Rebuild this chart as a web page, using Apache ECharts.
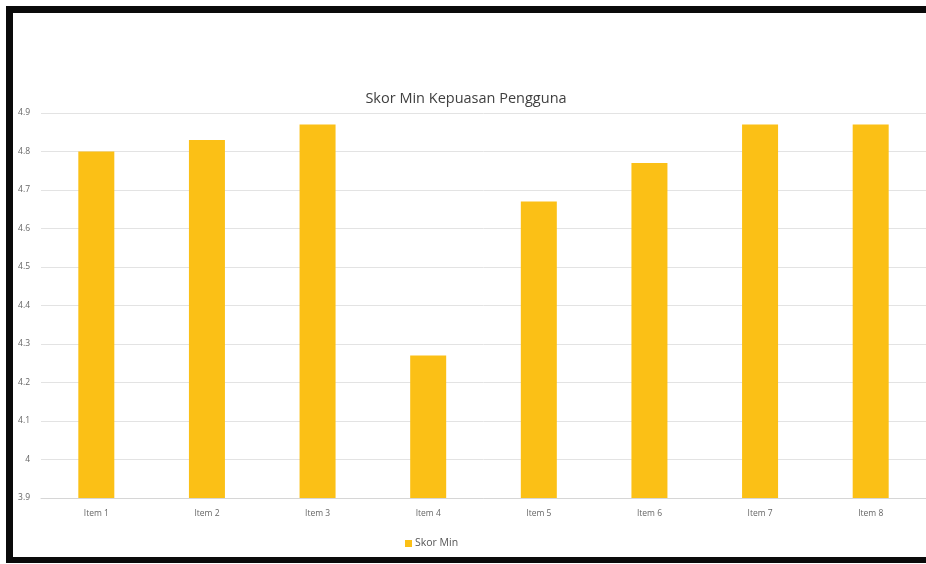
<!DOCTYPE html>
<html>
<head>
<meta charset="utf-8">
<script src="https://cdn.jsdelivr.net/npm/echarts@6/dist/echarts.min.js"></script>
<style>
  html, body { margin: 0; padding: 0; background: #ffffff; }
  #wrap { position: relative; width: 926px; height: 564px; overflow: hidden; }
  #chart { position: absolute; left: 0; top: 0; width: 926px; height: 564px; }
  #frame {
    position: absolute; left: 6px; top: 6px; width: 940px; height: 544px;
    border-left: 7px solid #0a0a0a; border-top: 7px solid #0a0a0a; border-bottom: 6px solid #0a0a0a;
    pointer-events: none;
  }
</style>
</head>
<body>
<div id="wrap">
  <div id="chart"></div>
  <div id="frame"></div>
</div>
<script>
// Mean user-satisfaction score per questionnaire item
const categories = ['Item 1', 'Item 2', 'Item 3', 'Item 4', 'Item 5', 'Item 6', 'Item 7', 'Item 8'];
const skorMin = [4.80, 4.83, 4.87, 4.27, 4.67, 4.77, 4.87, 4.87];
const yTicks = { min: 3.9, max: 4.9, step: 0.1 };

const chart = echarts.init(document.getElementById('chart'));
chart.setOption({
  animation: false,
  backgroundColor: 'transparent',
  title: {
    text: 'Skor Min Kepuasan Pengguna',
    left: 461, top: 86, textAlign: 'center',
    textStyle: { fontFamily: 'Open Sans', fontSize: 14.5, fontWeight: 'normal', color: '#404040' }
  },
  legend: {
    data: ['Skor Min'],
    left: 400, top: 533,
    itemWidth: 7, itemHeight: 7, itemGap: 4,
    icon: 'rect',
    textStyle: { fontFamily: 'Open Sans', fontSize: 10.5, color: '#555555', padding: [0, 0, 0, -2] }
  },
  grid: { left: 41, right: -2, top: 113, bottom: 66, containLabel: false },
  xAxis: {
    type: 'category',
    data: categories,
    axisLine: { lineStyle: { color: '#d6d6d6' } },
    axisTick: { show: false },
    axisLabel: { fontFamily: 'Open Sans', fontSize: 8.5, color: '#666666', margin: 11 }
  },
  yAxis: {
    type: 'value',
    min: yTicks.min, max: yTicks.max, interval: yTicks.step,
    axisLine: { show: false },
    axisTick: { show: false },
    splitLine: { lineStyle: { color: '#e3e3e3' } },
    axisLabel: {
      fontFamily: 'Open Sans', fontSize: 8.5, color: '#666666', margin: 11,
      formatter: v => String(parseFloat(v.toFixed(1)))
    }
  },
  series: [{
    name: 'Skor Min',
    type: 'bar',
    data: skorMin,
    barWidth: 36,
    itemStyle: { color: '#FBC016' }
  }]
});
</script>
</body>
</html>
